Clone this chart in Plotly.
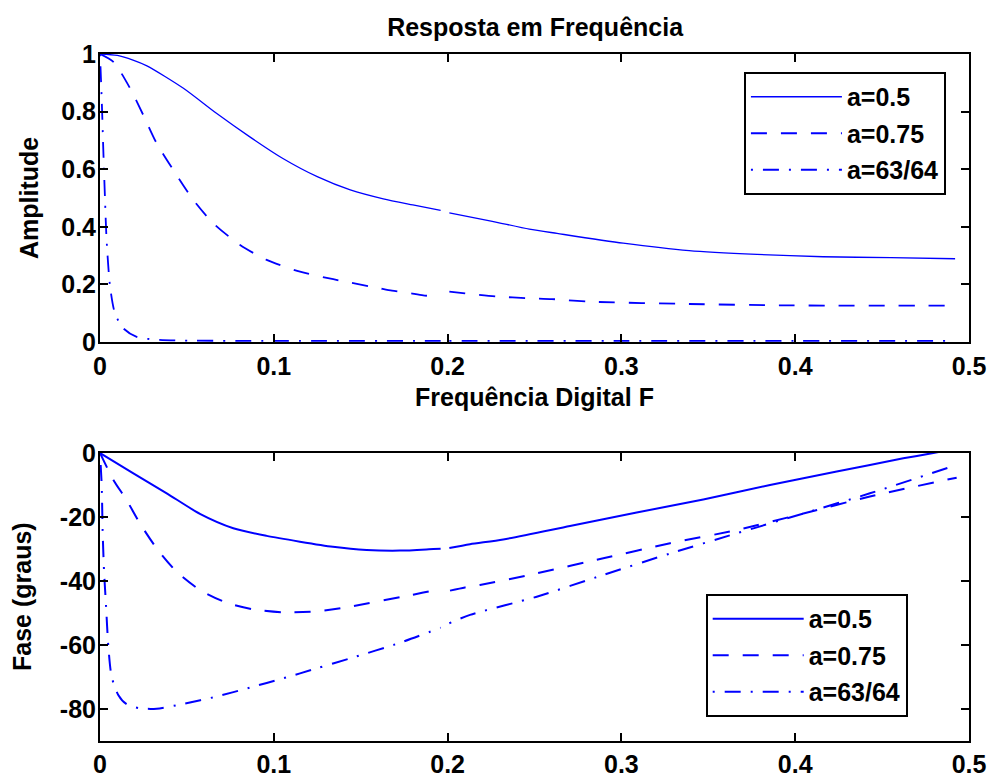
import plotly.graph_objects as go

# Digital frequency F and response values for each pole a (segments split at F=0.2)
f_amp_05 = [0, 0.01, 0.019, 0.027, 0.048, 0.067, 0.086, 0.105, 0.125, 0.144, 0.163, 0.18, 0.196, None,
            0.201, 0.225, 0.247, 0.263, 0.301, 0.339, 0.378, 0.416, 0.455, 0.492]
amp_05 = [1, 0.995, 0.979, 0.959, 0.881, 0.794, 0.713, 0.638, 0.574, 0.528, 0.497, 0.476, 0.457, None,
          0.448, 0.420, 0.392, 0.377, 0.343, 0.317, 0.304, 0.296, 0.293, 0.289]

f_amp_075 = [0, 0.0077, 0.0173, 0.0249, 0.0326, 0.0422, 0.0537, 0.0652, 0.0806, 0.0959, 0.1151, 0.1342,
             0.161, 0.168, 0.177, 0.186, 0.195, None,
             0.201, 0.21, 0.228, 0.247, 0.26, 0.282, 0.339, 0.397, 0.486]
amp_075 = [1, 0.973, 0.881, 0.788, 0.690, 0.597, 0.493, 0.412, 0.337, 0.285, 0.244, 0.218,
           0.186, 0.178, 0.171, 0.162, 0.157, None,
           0.175, 0.169, 0.158, 0.152, 0.149, 0.140, 0.132, 0.127, 0.126]

f_amp_6364 = [0, 0.001, 0.0019, 0.0029, 0.0038, 0.0058, 0.0086, 0.0134, 0.0211, 0.0307, 0.048, 0.1, 0.196, None,
              0.201, 0.3, 0.4, 0.491]
amp_6364 = [1, 0.84, 0.667, 0.493, 0.354, 0.192, 0.0995, 0.0475, 0.018, 0.009, 0.005, 0.004, 0.004, None,
            0.004, 0.004, 0.004, 0.004]

f_fase_05 = [0, 0.0192, 0.0384, 0.0575, 0.0767, 0.0959, 0.115, 0.134, 0.1534, 0.1726, 0.1918, 0.196, None,
             0.201, 0.2129, 0.232, 0.2704, 0.3088, 0.3471, 0.3855, 0.4239, 0.4622, 0.4795, 0.492]
fase_05 = [0, -6.35, -12.6, -19.0, -23.5, -25.9, -27.7, -29.3, -30.3, -30.5, -30.0, -29.9, None,
           -29.7, -28.5, -27.0, -22.8, -18.6, -14.5, -10.0, -5.8, -1.67, 0, 1.3]

f_fase_075 = [0, 0.0077, 0.0153, 0.023, 0.0326, 0.0441, 0.0575, 0.0729, 0.0882, 0.1055, 0.1247, 0.1438,
              0.177, 0.186, 0.195, None,
              0.2014, 0.21, 0.2186, 0.2513, 0.2896, 0.328, 0.3663, 0.4047, 0.443, 0.4929]
fase_075 = [0, -8.4, -14.7, -22.0, -29.8, -37.1, -42.8, -46.8, -48.85, -49.8, -49.5, -48.0,
            -44.6, -43.6, -42.6, None,
            -43.0, -42.0, -41.25, -37.6, -32.9, -28.2, -24.1, -18.9, -13.6, -7.7]

f_fase_6364 = [0, 0.001, 0.0015, 0.0023, 0.0035, 0.0048, 0.0067, 0.0105, 0.0153, 0.023, 0.0326, 0.048,
               0.0671, 0.0863, 0.1055, 0.1247, 0.1438, 0.1726, 0.196, None,
               0.201, 0.2129, 0.2513, 0.2896, 0.328, 0.3663, 0.4047, 0.443, 0.491]
fase_6364 = [0, -10.5, -24.0, -36.6, -48.0, -60.5, -69.9, -75.6, -78.5, -79.8, -79.9, -78.4,
             -76.1, -73.3, -70.4, -67.3, -64.2, -59.3, -54.6, None,
             -53.2, -50.6, -44.9, -38.1, -31.4, -25.1, -18.9, -12.6, -4.06]

labels = ["a=0.5", "a=0.75", "a=63/64"]
x_ticks = [0, 0.1, 0.2, 0.3, 0.4, 0.5]
x_ticktext = ["0", "0.1", "0.2", "0.3", "0.4", "0.5"]
amp_ticks = [0, 0.2, 0.4, 0.6, 0.8, 1]
amp_ticktext = ["0", "0.2", "0.4", "0.6", "0.8", "1"]
fase_ticks = [-80, -60, -40, -20, 0]
fase_ticktext = ["-80", "-60", "-40", "-20", "0"]

BLUE = "#0000ff"
FONT = "Liberation Sans, Arial, sans-serif"
FS = 25
DASH = "16px,14px"
DASHDOT = "2px,10px,16px,10px"

fig = go.Figure()

amp_series = [(f_amp_05, amp_05, "solid", 1.3), (f_amp_075, amp_075, DASH, 1.8), (f_amp_6364, amp_6364, DASHDOT, 1.8)]
for i, (fx, fy, dash, w) in enumerate(amp_series):
    fig.add_trace(go.Scatter(x=fx, y=fy, mode="lines", name=labels[i], connectgaps=False,
                             line=dict(color=BLUE, width=w, dash=dash, shape="spline", smoothing=0.7),
                             xaxis="x", yaxis="y", legend="legend", legendgroup=f"g{i}"))

fase_series = [(f_fase_05, fase_05, "solid"), (f_fase_075, fase_075, DASH), (f_fase_6364, fase_6364, DASHDOT)]
for i, (fx, fy, dash) in enumerate(fase_series):
    fig.add_trace(go.Scatter(x=fx, y=fy, mode="lines", name=labels[i], connectgaps=False,
                             line=dict(color=BLUE, width=2, dash=dash, shape="spline", smoothing=0.7),
                             xaxis="x2", yaxis="y2", legend="legend2", legendgroup=f"h{i}"))

tickfont = dict(family=FONT, size=FS, color="black", weight="bold")
axis_common = dict(showline=True, linecolor="black", linewidth=2, mirror="ticks", ticks="inside",
                   ticklen=8, tickwidth=2, tickcolor="black", showgrid=False, zeroline=False,
                   tickfont=tickfont, automargin=False)

legend_common = dict(bgcolor="white", bordercolor="black", borderwidth=2, xanchor="left", yanchor="top",
                     font=dict(family=FONT, size=FS, color="black", weight="bold"),
                     itemwidth=91, tracegroupgap=1, traceorder="grouped",
                     entrywidth=106, entrywidthmode="pixels")

fig.update_layout(
    width=990, height=779,
    margin=dict(l=100, r=21, t=54, b=38),
    paper_bgcolor="white", plot_bgcolor="white",
    showlegend=True,
    title=dict(text="Resposta em Frequência", x=0.5405, xanchor="center", y=1 - 27 / 779,
               yref="container", yanchor="middle",
               font=dict(family=FONT, size=FS, color="black", weight="bold")),
    xaxis=dict(domain=[0, 1], anchor="y", range=[0, 0.5], tickvals=x_ticks, ticktext=x_ticktext,
               ticklabelstandoff=1, **axis_common),
    yaxis=dict(domain=[0.5808, 1], anchor="x", range=[0, 1], tickvals=amp_ticks, ticktext=amp_ticktext,
               ticklabelstandoff=-3, **axis_common),
    xaxis2=dict(domain=[0, 1], anchor="y2", range=[0, 0.5], tickvals=x_ticks, ticktext=x_ticktext,
                ticklabelstandoff=0, **axis_common),
    yaxis2=dict(domain=[0, 0.4192], anchor="x2", range=[-90, 0], tickvals=fase_ticks, ticktext=fase_ticktext,
                ticklabelstandoff=-3, **axis_common),
    legend=dict(x=0.741, y=0.9738, **legend_common),
    legend2=dict(x=0.697, y=0.214, **legend_common),
    annotations=[
        dict(text="Frequência Digital F", xref="paper", yref="paper", x=0.5, y=(741 - 397) / 687,
             xanchor="center", yanchor="middle", showarrow=False,
             font=dict(family=FONT, size=FS, color="black", weight="bold")),
        dict(text="Amplitude", xref="paper", yref="paper", x=-(100 - 29) / 869, y=(741 - 198) / 687,
             xanchor="center", yanchor="middle", showarrow=False, textangle=-90,
             font=dict(family=FONT, size=FS, color="black", weight="bold")),
        dict(text="Fase (graus)", xref="paper", yref="paper", x=-(100 - 22) / 869, y=(741 - 597) / 687,
             xanchor="center", yanchor="middle", showarrow=False, textangle=-90,
             font=dict(family=FONT, size=FS, color="black", weight="bold")),
    ],
)

fig.write_html("out.html")
